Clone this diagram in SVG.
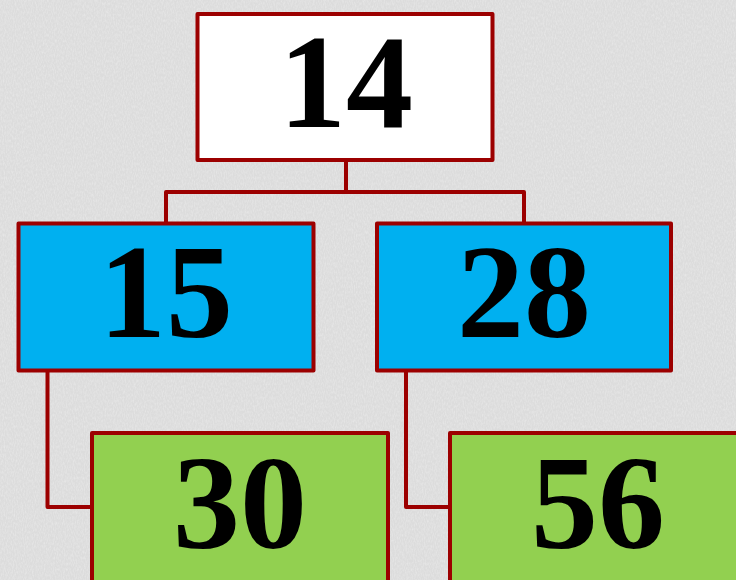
<svg xmlns="http://www.w3.org/2000/svg" width="736" height="580" viewBox="0 0 736 580">
  <defs>
    <filter id="noise" x="0" y="0" width="100%" height="100%">
      <feTurbulence type="fractalNoise" baseFrequency="0.9 0.35" numOctaves="2" seed="3" result="t"/>
      <feColorMatrix type="matrix" values="0 0 0 0 1  0 0 0 0 1  0 0 0 0 1  0 0 0 0.55 -0.2" result="w"/>
      <feComposite in="w" in2="SourceGraphic" operator="in"/>
    </filter>
    <style>
      .box { stroke: #9c0000; stroke-width: 4; stroke-linejoin: round; }
      .root { fill: #ffffff; }
      .mid { fill: #00b0f0; }
      .leaf { fill: #92d050; }
      .conn { fill: none; stroke: #9c0000; stroke-width: 4; stroke-linejoin: round; }
      .num { font-family: "Liberation Serif", "Times New Roman", serif; font-weight: bold; font-size: 134px; fill: #000000; text-anchor: middle; }
    </style>
  </defs>
  <rect x="0" y="0" width="736" height="580" fill="#dcdcdc"/>
  <rect x="0" y="0" width="736" height="580" fill="#dcdcdc" filter="url(#noise)"/>
  <g id="connectors">
    <path class="conn" d="M346 160 V192 M166 222 V192 H524 V222"/>
    <path class="conn" d="M47.5 372 V507 H92"/>
    <path class="conn" d="M406 372 V507 H450"/>
  </g>
  <g id="node-14">
    <rect class="box root" x="197.5" y="14" width="295" height="146"/>
    <text class="num" x="346" y="127">14</text>
  </g>
  <g id="node-15">
    <rect class="box mid" x="18.5" y="223.5" width="295" height="147"/>
    <text class="num" x="166" y="337">15</text>
  </g>
  <g id="node-28">
    <rect class="box mid" x="377" y="223.5" width="294" height="147"/>
    <text class="num" x="524" y="337">28</text>
  </g>
  <g id="node-30">
    <rect class="box leaf" x="92" y="433" width="296" height="160"/>
    <text class="num" x="240" y="548">30</text>
  </g>
  <g id="node-56">
    <rect class="box leaf" x="450" y="433" width="296" height="160"/>
    <text class="num" x="598" y="548">56</text>
  </g>
</svg>
